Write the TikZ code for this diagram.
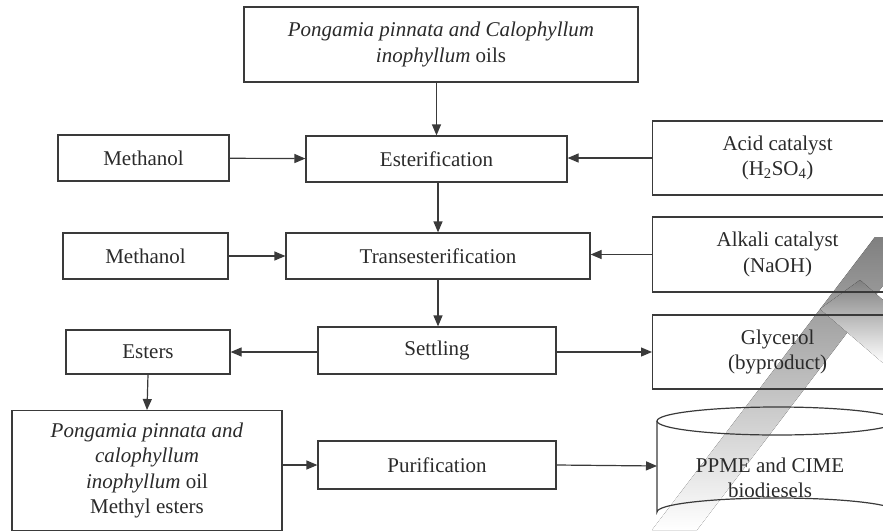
\documentclass[tikz,border=0pt]{standalone}
\usepackage{fontspec}
\setmainfont{Liberation Serif}
\usetikzlibrary{arrows.meta}
\definecolor{linec}{HTML}{3A3A3A}
\definecolor{textc}{HTML}{2A2A2A}
\definecolor{shade}{HTML}{D6D6D6}
\begin{document}
\begin{tikzpicture}[x=1pt,y=-1pt,
  box/.style={draw=linec, line width=1.2pt, align=center, inner sep=0pt,
    text=textc, font=\fontsize{21}{25.5}\selectfont},
  flow/.style={draw=linec, line width=1.2pt, -{Triangle[length=11pt,width=9pt]}}]
\useasboundingbox (0,0) rectangle (883,530);
\clip (0,0) rectangle (883,530);

% light diagonal bands in the lower right
\fill[shade] (875,237) -- (652,530) -- (697,530) -- (920,237) -- cycle;
\fill[shade] (820,309) -- (883,363) -- (883,300) -- (860,280) -- cycle;

% feed
\node[box, minimum width=394, minimum height=75] (oil) at (441,44.5)
  {\textit{Pongamia pinnata and Calophyllum}\\\textit{inophyllum} oils};

% first row
\node[box, minimum width=171, minimum height=46] (meth1) at (143.5,158) {Methanol};
\node[box, minimum width=261, minimum height=46] (ester) at (436.5,159) {Esterification};
\node[box, minimum width=250, minimum height=74, anchor=west] (acid) at (652,158)
  {Acid catalyst\\(H\textsubscript{2}SO\textsubscript{4})};

% second row
\node[box, minimum width=165, minimum height=46] (meth2) at (145.5,256) {Methanol};
\node[box, minimum width=304, minimum height=46] (trans) at (438,256) {Transesterification};
\node[box, minimum width=250, minimum height=75, anchor=west] (alkali) at (652,254.5)
  {Alkali catalyst\\(NaOH)};

% third row
\node[box, minimum width=164, minimum height=44] (esters) at (148,352) {Esters};
\node[box, minimum width=238, minimum height=47] (settle) at (437,350.5) {Settling};
\node[box, minimum width=250, minimum height=74, anchor=west] (glyc) at (652,352)
  {Glycerol\\(byproduct)};

% last row
\node[box, minimum width=270, minimum height=120, anchor=north] (pme) at (147,410)
  {\textit{Pongamia pinnata and}\\\textit{calophyllum}\\\textit{inophyllum} oil\\Methyl esters};
\node[box, minimum width=238, minimum height=48] (purif) at (437,465) {Purification};

% storage drum
\draw[linec, line width=1.2pt]
  (657,421) -- (657,512) arc[start angle=180, end angle=360, x radius=120, y radius=14]
  -- (897,421);
\draw[linec, line width=1.2pt] (777,421) ellipse[x radius=120, y radius=14];
\node[text=textc, font=\fontsize{21}{25.5}\selectfont, align=center] (drum) at (770,478)
  {PPME and CIME\\biodiesels};
\coordinate (drumin) at (657,466);

% connectors
\draw[flow] (oil.south -| ester.north) -- (ester.north);
\draw[flow] (meth1) -- (ester);
\draw[flow] (acid.west) -- (acid.west -| ester.east);
\draw[flow] (ester.south -| trans.north) -- (trans.north);
\draw[flow] (meth2) -- (trans);
\draw[flow] (alkali.west) -- (alkali.west -| trans.east);
\draw[flow] (trans.south) -- (trans.south |- settle.north);
\draw[flow] (settle.west |- esters.east) -- (esters.east);
\draw[flow] (settle.east |- glyc.west) -- (glyc.west);
\draw[flow] (esters.south) -- (pme.north);
\draw[flow] (pme.east |- purif.west) -- (purif.west);
\draw[flow] (purif.east) -- (drumin);
\end{tikzpicture}
\end{document}
